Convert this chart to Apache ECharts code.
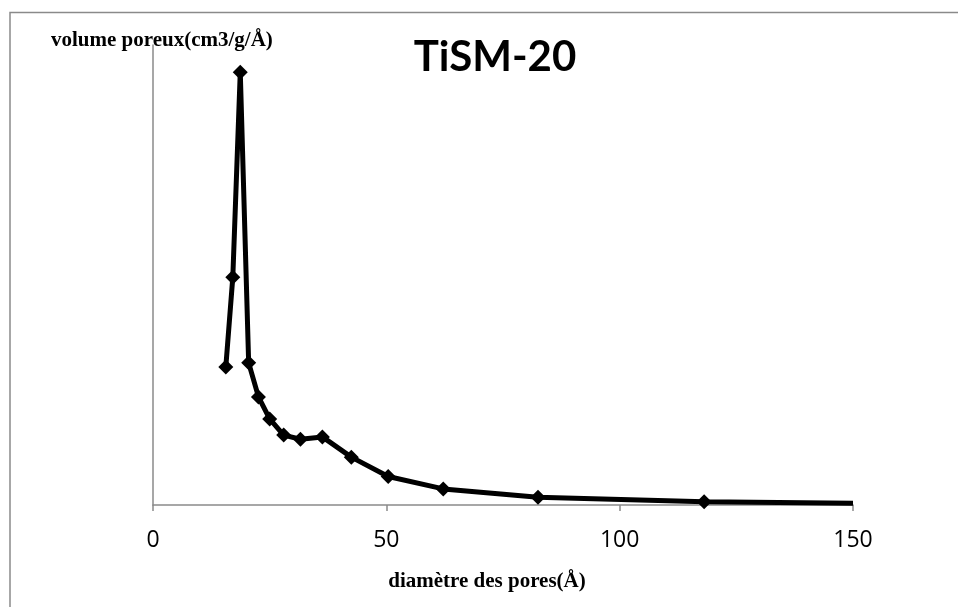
<!DOCTYPE html>
<html><head><meta charset="utf-8">
<script src="https://cdn.jsdelivr.net/npm/echarts@6/dist/echarts.min.js"></script>
<style>html,body{margin:0;padding:0;background:#fff}#c{width:958px;height:607px}</style>
</head><body><div id="c"></div>
<script>
const title = 'TiSM-20';
const xName = 'diamètre des pores(Å)';
const yName = 'volume poreux(cm3/g/Å)';
const diameters = [15.6, 17.1, 18.7, 20.5, 22.6, 25.0, 28.0, 31.6, 36.3, 42.5, 50.4, 62.2, 82.5, 118.1, 150];
const volumes = [0.0300, 0.0495, 0.0941, 0.0309, 0.0235, 0.0187, 0.0152, 0.0143, 0.0148, 0.0104, 0.0062, 0.0035, 0.0017, 0.0007, 0.0004];
const showMarker = [1,1,1,1,1,1,1,1,1,1,1,1,1,1,0];
const xTicks = [0, 50, 100, 150];

const chart = echarts.init(document.getElementById('c'));
chart.setOption({
  animation: false,
  title: { text: title, left: 490, top: 31, textAlign: 'center',
    textStyle: { fontFamily: 'Lato', fontWeight: 'bold', fontSize: 42, color: '#000' } },
  graphic: [
    { type: 'polyline', shape: { points: [[10, 700], [10, 12.5], [1000, 12.5]] },
      style: { stroke: '#8a8a8a', lineWidth: 1.5, fill: null } },
    { type: 'text', left: 51, top: 30,
      style: { text: yName, font: 'bold 21px "Liberation Serif"', fill: '#000' } }
  ],
  grid: { left: 153, right: 105, top: 45, bottom: 102 },
  xAxis: {
    type: 'value', min: xTicks[0], max: xTicks[xTicks.length - 1], interval: 50,
    name: xName, nameLocation: 'middle', nameGap: 66,
    nameTextStyle: { fontFamily: 'Liberation Serif', fontWeight: 'bold', fontSize: 21, color: '#000', padding: [0, 32, 0, 0] },
    axisLine: { lineStyle: { color: '#8a8a8a', width: 1.5 } },
    axisTick: { show: true, length: 6, lineStyle: { color: '#8a8a8a', width: 1.5 } },
    axisLabel: { fontFamily: 'Open Sans', fontSize: 23, color: '#000', margin: 24 },
    splitLine: { show: false }
  },
  yAxis: {
    type: 'value', min: 0, max: 0.1,
    axisLine: { show: true, lineStyle: { color: '#8a8a8a', width: 1.5 } },
    axisTick: { show: false }, axisLabel: { show: false }, splitLine: { show: false }
  },
  series: [{
    type: 'line', clip: true,
    data: diameters.map((d, i) => ({ value: [d, volumes[i]], symbolSize: showMarker[i] ? 15 : 0 })),
    symbol: 'diamond',
    lineStyle: { color: '#000', width: 5 },
    itemStyle: { color: '#000' }
  }]
});
</script></body></html>
